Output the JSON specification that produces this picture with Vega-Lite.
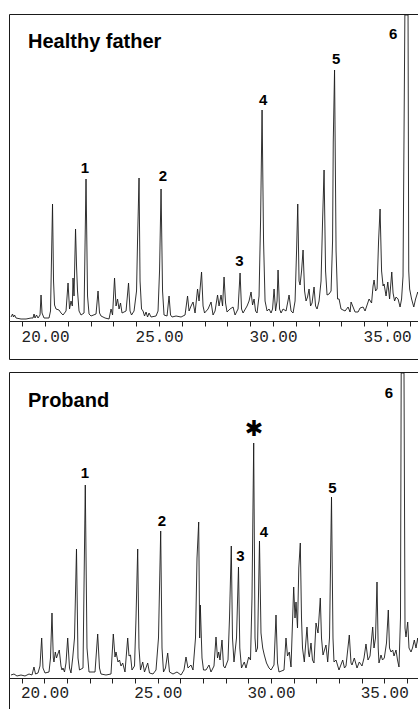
{
  "$schema": "https://vega.github.io/schema/vega-lite/v6.json",
  "padding": {"left": 8, "top": 12, "right": 0, "bottom": 0},
  "spacing": 10,
  "background": "white",
  "config": {"view": {"stroke": "#1a1a1a", "strokeWidth": 1}},
  "resolve": {"scale": {"x": "independent", "y": "independent"}},
  "datasets": {
    "trace": [
      {"panel":"father","t":18.509,"I":4},{"panel":"father","t":18.575,"I":7},{"panel":"father","t":18.618,"I":4},{"panel":"father","t":18.662,"I":6},{"panel":"father","t":18.728,"I":3},{"panel":"father","t":18.947,"I":2},{"panel":"father","t":19.167,"I":2},{"panel":"father","t":19.386,"I":3},{"panel":"father","t":19.474,"I":3},{"panel":"father","t":19.518,"I":7},{"panel":"father","t":19.561,"I":3},{"panel":"father","t":19.627,"I":6},{"panel":"father","t":19.693,"I":3},{"panel":"father","t":19.781,"I":6},{"panel":"father","t":19.825,"I":26},{"panel":"father","t":19.868,"I":8},{"panel":"father","t":19.956,"I":3},{"panel":"father","t":20.175,"I":3},{"panel":"father","t":20.241,"I":10},{"panel":"father","t":20.329,"I":117},{"panel":"father","t":20.373,"I":40},{"panel":"father","t":20.417,"I":16},{"panel":"father","t":20.482,"I":12},{"panel":"father","t":20.614,"I":11},{"panel":"father","t":20.702,"I":8},{"panel":"father","t":20.789,"I":6},{"panel":"father","t":20.855,"I":8},{"panel":"father","t":20.921,"I":10},{"panel":"father","t":21.009,"I":38},{"panel":"father","t":21.075,"I":12},{"panel":"father","t":21.14,"I":20},{"panel":"father","t":21.197,"I":15},{"panel":"father","t":21.228,"I":43},{"panel":"father","t":21.272,"I":25},{"panel":"father","t":21.338,"I":92},{"panel":"father","t":21.382,"I":55},{"panel":"father","t":21.425,"I":30},{"panel":"father","t":21.491,"I":10},{"panel":"father","t":21.579,"I":6},{"panel":"father","t":21.711,"I":8},{"panel":"father","t":21.798,"I":142},{"panel":"father","t":21.864,"I":25},{"panel":"father","t":21.93,"I":7},{"panel":"father","t":22.018,"I":5},{"panel":"father","t":22.237,"I":7},{"panel":"father","t":22.325,"I":30},{"panel":"father","t":22.39,"I":8},{"panel":"father","t":22.456,"I":5},{"panel":"father","t":22.632,"I":3},{"panel":"father","t":22.807,"I":2},{"panel":"father","t":22.895,"I":12},{"panel":"father","t":22.961,"I":6},{"panel":"father","t":23.048,"I":43},{"panel":"father","t":23.114,"I":15},{"panel":"father","t":23.18,"I":22},{"panel":"father","t":23.246,"I":12},{"panel":"father","t":23.311,"I":18},{"panel":"father","t":23.377,"I":8},{"panel":"father","t":23.553,"I":10},{"panel":"father","t":23.662,"I":38},{"panel":"father","t":23.728,"I":10},{"panel":"father","t":23.794,"I":6},{"panel":"father","t":23.904,"I":10},{"panel":"father","t":24.013,"I":30},{"panel":"father","t":24.057,"I":80},{"panel":"father","t":24.123,"I":143},{"panel":"father","t":24.167,"I":40},{"panel":"father","t":24.232,"I":12},{"panel":"father","t":24.298,"I":10},{"panel":"father","t":24.364,"I":5},{"panel":"father","t":24.43,"I":9},{"panel":"father","t":24.496,"I":4},{"panel":"father","t":24.561,"I":8},{"panel":"father","t":24.649,"I":4},{"panel":"father","t":24.868,"I":5},{"panel":"father","t":24.956,"I":10},{"panel":"father","t":25.022,"I":50},{"panel":"father","t":25.088,"I":132},{"panel":"father","t":25.154,"I":30},{"panel":"father","t":25.219,"I":6},{"panel":"father","t":25.351,"I":5},{"panel":"father","t":25.439,"I":25},{"panel":"father","t":25.504,"I":6},{"panel":"father","t":25.57,"I":4},{"panel":"father","t":25.746,"I":5},{"panel":"father","t":25.965,"I":4},{"panel":"father","t":26.14,"I":6},{"panel":"father","t":26.25,"I":25},{"panel":"father","t":26.316,"I":10},{"panel":"father","t":26.404,"I":15},{"panel":"father","t":26.491,"I":19},{"panel":"father","t":26.579,"I":8},{"panel":"father","t":26.689,"I":32},{"panel":"father","t":26.754,"I":20},{"panel":"father","t":26.864,"I":49},{"panel":"father","t":26.93,"I":15},{"panel":"father","t":26.996,"I":8},{"panel":"father","t":27.149,"I":12},{"panel":"father","t":27.281,"I":19},{"panel":"father","t":27.368,"I":6},{"panel":"father","t":27.456,"I":10},{"panel":"father","t":27.566,"I":26},{"panel":"father","t":27.632,"I":15},{"panel":"father","t":27.719,"I":26},{"panel":"father","t":27.785,"I":15},{"panel":"father","t":27.851,"I":44},{"panel":"father","t":27.917,"I":18},{"panel":"father","t":27.982,"I":9},{"panel":"father","t":28.114,"I":12},{"panel":"father","t":28.246,"I":14},{"panel":"father","t":28.333,"I":6},{"panel":"father","t":28.465,"I":12},{"panel":"father","t":28.553,"I":48},{"panel":"father","t":28.618,"I":12},{"panel":"father","t":28.684,"I":8},{"panel":"father","t":28.86,"I":15},{"panel":"father","t":28.947,"I":20},{"panel":"father","t":29.035,"I":29},{"panel":"father","t":29.101,"I":16},{"panel":"father","t":29.167,"I":22},{"panel":"father","t":29.232,"I":10},{"panel":"father","t":29.298,"I":8},{"panel":"father","t":29.386,"I":25},{"panel":"father","t":29.452,"I":100},{"panel":"father","t":29.518,"I":211},{"panel":"father","t":29.583,"I":80},{"panel":"father","t":29.649,"I":20},{"panel":"father","t":29.737,"I":10},{"panel":"father","t":29.825,"I":12},{"panel":"father","t":29.912,"I":8},{"panel":"father","t":29.978,"I":12},{"panel":"father","t":30.044,"I":32},{"panel":"father","t":30.11,"I":10},{"panel":"father","t":30.175,"I":20},{"panel":"father","t":30.219,"I":51},{"panel":"father","t":30.285,"I":12},{"panel":"father","t":30.351,"I":8},{"panel":"father","t":30.439,"I":12},{"panel":"father","t":30.57,"I":10},{"panel":"father","t":30.702,"I":26},{"panel":"father","t":30.789,"I":10},{"panel":"father","t":30.877,"I":8},{"panel":"father","t":30.965,"I":20},{"panel":"father","t":31.031,"I":70},{"panel":"father","t":31.083,"I":117},{"panel":"father","t":31.14,"I":40},{"panel":"father","t":31.184,"I":36},{"panel":"father","t":31.25,"I":50},{"panel":"father","t":31.316,"I":71},{"panel":"father","t":31.382,"I":30},{"panel":"father","t":31.447,"I":20},{"panel":"father","t":31.513,"I":24},{"panel":"father","t":31.579,"I":32},{"panel":"father","t":31.645,"I":15},{"panel":"father","t":31.711,"I":18},{"panel":"father","t":31.798,"I":34},{"panel":"father","t":31.864,"I":15},{"panel":"father","t":31.93,"I":12},{"panel":"father","t":32.018,"I":20},{"panel":"father","t":32.105,"I":40},{"panel":"father","t":32.171,"I":100},{"panel":"father","t":32.237,"I":151},{"panel":"father","t":32.303,"I":50},{"panel":"father","t":32.368,"I":26},{"panel":"father","t":32.456,"I":27},{"panel":"father","t":32.544,"I":30},{"panel":"father","t":32.61,"I":80},{"panel":"father","t":32.64,"I":179},{"panel":"father","t":32.697,"I":251},{"panel":"father","t":32.763,"I":70},{"panel":"father","t":32.829,"I":22},{"panel":"father","t":32.895,"I":22},{"panel":"father","t":32.982,"I":12},{"panel":"father","t":33.158,"I":10},{"panel":"father","t":33.29,"I":14},{"panel":"father","t":33.377,"I":9},{"panel":"father","t":33.421,"I":19},{"panel":"father","t":33.509,"I":14},{"panel":"father","t":33.596,"I":9},{"panel":"father","t":33.728,"I":9},{"panel":"father","t":33.816,"I":13},{"panel":"father","t":33.947,"I":14},{"panel":"father","t":34.035,"I":10},{"panel":"father","t":34.123,"I":16},{"panel":"father","t":34.211,"I":22},{"panel":"father","t":34.32,"I":18},{"panel":"father","t":34.386,"I":35},{"panel":"father","t":34.43,"I":41},{"panel":"father","t":34.496,"I":30},{"panel":"father","t":34.561,"I":32},{"panel":"father","t":34.627,"I":80},{"panel":"father","t":34.693,"I":112},{"panel":"father","t":34.759,"I":50},{"panel":"father","t":34.825,"I":35},{"panel":"father","t":34.868,"I":37},{"panel":"father","t":34.956,"I":25},{"panel":"father","t":35.031,"I":39},{"panel":"father","t":35.11,"I":22},{"panel":"father","t":35.206,"I":49},{"panel":"father","t":35.263,"I":28},{"panel":"father","t":35.329,"I":20},{"panel":"father","t":35.395,"I":24},{"panel":"father","t":35.482,"I":22},{"panel":"father","t":35.57,"I":14},{"panel":"father","t":35.636,"I":22},{"panel":"father","t":35.7,"I":45},{"panel":"father","t":35.78,"I":306},{"panel":"father","t":35.92,"I":306},{"panel":"father","t":35.95,"I":50},{"panel":"father","t":35.99,"I":32},{"panel":"father","t":36.075,"I":22},{"panel":"father","t":36.171,"I":14},{"panel":"father","t":36.25,"I":22},{"panel":"father","t":36.346,"I":29},{"panel":"father","t":36.404,"I":25},
      {"panel":"proband","t":18.521,"I":3},{"panel":"proband","t":18.653,"I":4},{"panel":"proband","t":18.786,"I":2},{"panel":"proband","t":18.962,"I":3},{"panel":"proband","t":19.139,"I":2},{"panel":"proband","t":19.316,"I":4},{"panel":"proband","t":19.448,"I":3},{"panel":"proband","t":19.536,"I":11},{"panel":"proband","t":19.603,"I":4},{"panel":"proband","t":19.713,"I":5},{"panel":"proband","t":19.801,"I":12},{"panel":"proband","t":19.876,"I":40},{"panel":"proband","t":19.934,"I":10},{"panel":"proband","t":20.022,"I":5},{"panel":"proband","t":20.199,"I":6},{"panel":"proband","t":20.265,"I":20},{"panel":"proband","t":20.331,"I":65},{"panel":"proband","t":20.389,"I":20},{"panel":"proband","t":20.419,"I":16},{"panel":"proband","t":20.477,"I":26},{"panel":"proband","t":20.53,"I":20},{"panel":"proband","t":20.574,"I":23},{"panel":"proband","t":20.653,"I":28},{"panel":"proband","t":20.728,"I":12},{"panel":"proband","t":20.773,"I":8},{"panel":"proband","t":20.817,"I":10},{"panel":"proband","t":20.883,"I":6},{"panel":"proband","t":20.949,"I":15},{"panel":"proband","t":21.024,"I":40},{"panel":"proband","t":21.104,"I":10},{"panel":"proband","t":21.17,"I":5},{"panel":"proband","t":21.245,"I":20},{"panel":"proband","t":21.325,"I":40},{"panel":"proband","t":21.413,"I":129},{"panel":"proband","t":21.479,"I":20},{"panel":"proband","t":21.545,"I":8},{"panel":"proband","t":21.7,"I":10},{"panel":"proband","t":21.801,"I":193},{"panel":"proband","t":21.876,"I":30},{"panel":"proband","t":21.965,"I":6},{"panel":"proband","t":22.23,"I":6},{"panel":"proband","t":22.349,"I":44},{"panel":"proband","t":22.428,"I":10},{"panel":"proband","t":22.494,"I":4},{"panel":"proband","t":22.715,"I":3},{"panel":"proband","t":22.936,"I":4},{"panel":"proband","t":23.038,"I":44},{"panel":"proband","t":23.113,"I":21},{"panel":"proband","t":23.157,"I":26},{"panel":"proband","t":23.245,"I":16},{"panel":"proband","t":23.311,"I":18},{"panel":"proband","t":23.378,"I":12},{"panel":"proband","t":23.453,"I":15},{"panel":"proband","t":23.554,"I":6},{"panel":"proband","t":23.673,"I":40},{"panel":"proband","t":23.731,"I":22},{"panel":"proband","t":23.797,"I":23},{"panel":"proband","t":23.863,"I":8},{"panel":"proband","t":23.974,"I":12},{"panel":"proband","t":24.04,"I":60},{"panel":"proband","t":24.115,"I":129},{"panel":"proband","t":24.172,"I":30},{"panel":"proband","t":24.238,"I":8},{"panel":"proband","t":24.336,"I":16},{"panel":"proband","t":24.415,"I":6},{"panel":"proband","t":24.556,"I":15},{"panel":"proband","t":24.636,"I":5},{"panel":"proband","t":24.79,"I":4},{"panel":"proband","t":24.923,"I":8},{"panel":"proband","t":25.033,"I":40},{"panel":"proband","t":25.13,"I":147},{"panel":"proband","t":25.188,"I":30},{"panel":"proband","t":25.254,"I":6},{"panel":"proband","t":25.342,"I":10},{"panel":"proband","t":25.439,"I":25},{"panel":"proband","t":25.519,"I":6},{"panel":"proband","t":25.673,"I":4},{"panel":"proband","t":25.85,"I":6},{"panel":"proband","t":26.026,"I":3},{"panel":"proband","t":26.159,"I":8},{"panel":"proband","t":26.247,"I":21},{"panel":"proband","t":26.336,"I":10},{"panel":"proband","t":26.468,"I":13},{"panel":"proband","t":26.556,"I":8},{"panel":"proband","t":26.667,"I":40},{"panel":"proband","t":26.733,"I":120},{"panel":"proband","t":26.808,"I":156},{"panel":"proband","t":26.852,"I":40},{"panel":"proband","t":26.879,"I":73},{"panel":"proband","t":26.954,"I":20},{"panel":"proband","t":27.02,"I":8},{"panel":"proband","t":27.13,"I":8},{"panel":"proband","t":27.263,"I":13},{"panel":"proband","t":27.351,"I":6},{"panel":"proband","t":27.483,"I":12},{"panel":"proband","t":27.572,"I":41},{"panel":"proband","t":27.638,"I":20},{"panel":"proband","t":27.691,"I":26},{"panel":"proband","t":27.748,"I":18},{"panel":"proband","t":27.837,"I":38},{"panel":"proband","t":27.903,"I":12},{"panel":"proband","t":27.969,"I":10},{"panel":"proband","t":28.102,"I":18},{"panel":"proband","t":28.168,"I":60},{"panel":"proband","t":28.247,"I":132},{"panel":"proband","t":28.3,"I":40},{"panel":"proband","t":28.366,"I":16},{"panel":"proband","t":28.477,"I":40},{"panel":"proband","t":28.565,"I":111},{"panel":"proband","t":28.623,"I":30},{"panel":"proband","t":28.698,"I":10},{"panel":"proband","t":28.821,"I":16},{"panel":"proband","t":28.896,"I":10},{"panel":"proband","t":29.015,"I":21},{"panel":"proband","t":29.095,"I":18},{"panel":"proband","t":29.161,"I":80},{"panel":"proband","t":29.236,"I":235},{"panel":"proband","t":29.294,"I":40},{"panel":"proband","t":29.338,"I":26},{"panel":"proband","t":29.404,"I":30},{"panel":"proband","t":29.492,"I":137},{"panel":"proband","t":29.558,"I":45},{"panel":"proband","t":29.634,"I":30},{"panel":"proband","t":29.704,"I":23},{"panel":"proband","t":29.801,"I":15},{"panel":"proband","t":29.912,"I":10},{"panel":"proband","t":30.0,"I":8},{"panel":"proband","t":30.132,"I":13},{"panel":"proband","t":30.221,"I":63},{"panel":"proband","t":30.287,"I":15},{"panel":"proband","t":30.353,"I":6},{"panel":"proband","t":30.574,"I":8},{"panel":"proband","t":30.662,"I":40},{"panel":"proband","t":30.728,"I":22},{"panel":"proband","t":30.808,"I":26},{"panel":"proband","t":30.883,"I":11},{"panel":"proband","t":31.002,"I":91},{"panel":"proband","t":31.06,"I":60},{"panel":"proband","t":31.104,"I":76},{"panel":"proband","t":31.17,"I":50},{"panel":"proband","t":31.227,"I":110},{"panel":"proband","t":31.294,"I":135},{"panel":"proband","t":31.347,"I":60},{"panel":"proband","t":31.391,"I":30},{"panel":"proband","t":31.47,"I":16},{"panel":"proband","t":31.589,"I":51},{"panel":"proband","t":31.656,"I":25},{"panel":"proband","t":31.691,"I":21},{"panel":"proband","t":31.766,"I":35},{"panel":"proband","t":31.832,"I":18},{"panel":"proband","t":31.898,"I":15},{"panel":"proband","t":31.987,"I":55},{"panel":"proband","t":32.075,"I":45},{"panel":"proband","t":32.177,"I":80},{"panel":"proband","t":32.23,"I":40},{"panel":"proband","t":32.296,"I":23},{"panel":"proband","t":32.428,"I":33},{"panel":"proband","t":32.503,"I":16},{"panel":"proband","t":32.583,"I":40},{"panel":"proband","t":32.671,"I":181},{"panel":"proband","t":32.737,"I":40},{"panel":"proband","t":32.781,"I":16},{"panel":"proband","t":32.87,"I":18},{"panel":"proband","t":33.002,"I":8},{"panel":"proband","t":33.166,"I":18},{"panel":"proband","t":33.245,"I":10},{"panel":"proband","t":33.311,"I":12},{"panel":"proband","t":33.457,"I":43},{"panel":"proband","t":33.532,"I":15},{"panel":"proband","t":33.576,"I":13},{"panel":"proband","t":33.678,"I":20},{"panel":"proband","t":33.797,"I":10},{"panel":"proband","t":33.898,"I":16},{"panel":"proband","t":34.018,"I":12},{"panel":"proband","t":34.106,"I":20},{"panel":"proband","t":34.194,"I":34},{"panel":"proband","t":34.283,"I":18},{"panel":"proband","t":34.371,"I":22},{"panel":"proband","t":34.49,"I":51},{"panel":"proband","t":34.547,"I":30},{"panel":"proband","t":34.614,"I":40},{"panel":"proband","t":34.68,"I":96},{"panel":"proband","t":34.733,"I":30},{"panel":"proband","t":34.768,"I":15},{"panel":"proband","t":34.857,"I":23},{"panel":"proband","t":34.923,"I":18},{"panel":"proband","t":35.002,"I":20},{"panel":"proband","t":35.099,"I":35},{"panel":"proband","t":35.179,"I":68},{"panel":"proband","t":35.232,"I":30},{"panel":"proband","t":35.298,"I":26},{"panel":"proband","t":35.373,"I":28},{"panel":"proband","t":35.431,"I":22},{"panel":"proband","t":35.519,"I":28},{"panel":"proband","t":35.585,"I":18},{"panel":"proband","t":35.651,"I":11},{"panel":"proband","t":35.717,"I":60},{"panel":"proband","t":35.748,"I":305},{"panel":"proband","t":35.872,"I":305},{"panel":"proband","t":35.916,"I":50},{"panel":"proband","t":35.96,"I":41},{"panel":"proband","t":36.035,"I":56},{"panel":"proband","t":36.093,"I":30},{"panel":"proband","t":36.181,"I":26},{"panel":"proband","t":36.247,"I":30},{"panel":"proband","t":36.327,"I":38},{"panel":"proband","t":36.402,"I":30},{"panel":"proband","t":36.477,"I":40},{"panel":"proband","t":36.534,"I":30}
    ],
    "labels": [
      {"panel":"father","kind":"title","text":"Healthy father","t":19.254,"I":273},
      {"panel":"father","kind":"peak","text":"1","t":21.754,"I":153.5},
      {"panel":"father","kind":"peak","text":"2","t":25.175,"I":145},
      {"panel":"father","kind":"peak","text":"3","t":28.522,"I":60},
      {"panel":"father","kind":"peak","text":"4","t":29.561,"I":221},
      {"panel":"father","kind":"peak","text":"5","t":32.763,"I":262},
      {"panel":"father","kind":"peak","text":"6","t":35.263,"I":287},
      {"panel":"proband","kind":"title","text":"Proband","t":19.272,"I":271.5},
      {"panel":"proband","kind":"peak","text":"1","t":21.788,"I":205},
      {"panel":"proband","kind":"peak","text":"2","t":25.188,"I":157.5},
      {"panel":"proband","kind":"peak","text":"3","t":28.653,"I":122},
      {"panel":"proband","kind":"peak","text":"4","t":29.691,"I":146.5},
      {"panel":"proband","kind":"peak","text":"5","t":32.715,"I":190.5},
      {"panel":"proband","kind":"peak","text":"6","t":35.21,"I":285.5},
      {"panel":"proband","kind":"star","text":"✱","t":29.249,"I":249.5}
    ]
  },
  "vconcat": [
    {
      "width": 410,
      "height": 345,
      "encoding": {
        "x": {"field": "t", "type": "quantitative", "scale": {"domain": [18.42, 36.4], "nice": false, "zero": false},
          "axis": {"orient": "bottom", "offset": -38, "values": [19,20,21,22,23,24,25,26,27,28,29,30,31,32,33,34,35,36],
            "labelExpr": "datum.value % 5 === 0 ? format(datum.value, '.2f') : ''",
            "grid": false, "title": null, "domain": true, "ticks": true, "labels": true, "domainColor": "#222", "domainWidth": 1, "tickColor": "#222", "tickWidth": 1, "tickSize": 5,
            "labelFont": "Liberation Mono", "labelFontSize": 16, "labelColor": "#222", "labelPadding": 2, "labelOverlap": false, "labelFlush": false}},
        "y": {"field": "I", "type": "quantitative", "scale": {"domain": [-38, 307], "nice": false, "zero": false}, "axis": null}
      },
      "layer": [
        {
          "data": {"name": "trace"},
          "transform": [{"filter": "datum.panel === 'father'"}],
          "mark": {"type": "line", "color": "#1a1a1a", "strokeWidth": 0.9}
        },
        {
          "data": {"values": [{}]},
          "mark": {"type": "rule", "color": "#444", "strokeWidth": 1},
          "encoding": {"x": {"datum": 18.42, "type": "quantitative"}, "x2": {"datum": 36.4}, "y": {"datum": -25, "type": "quantitative"}}
        },
        {
          "data": {"name": "labels"},
          "transform": [{"filter": "datum.panel === 'father' && datum.kind === 'title'"}],
          "mark": {"type": "text", "align": "left", "baseline": "alphabetic", "font": "Liberation Sans", "fontSize": 20, "fontWeight": "bold", "color": "#000"},
          "encoding": {"text": {"field": "text"}}
        },
        {
          "data": {"name": "labels"},
          "transform": [{"filter": "datum.panel === 'father' && datum.kind === 'peak'"}],
          "mark": {"type": "text", "align": "center", "baseline": "middle", "font": "Liberation Sans", "fontSize": 15, "fontWeight": "bold", "color": "#000"},
          "encoding": {"text": {"field": "text"}}
        }
      ]
    },
    {
      "width": 410,
      "height": 342,
      "encoding": {
        "x": {"field": "t", "type": "quantitative", "scale": {"domain": [18.433, 36.534], "nice": false, "zero": false},
          "axis": {"orient": "bottom", "offset": -36, "values": [19,20,21,22,23,24,25,26,27,28,29,30,31,32,33,34,35,36],
            "labelExpr": "datum.value % 5 === 0 ? format(datum.value, '.2f') : ''",
            "grid": false, "title": null, "domain": true, "ticks": true, "labels": true, "domainColor": "#222", "domainWidth": 1, "tickColor": "#222", "tickWidth": 1, "tickSize": 5,
            "labelFont": "Liberation Mono", "labelFontSize": 16, "labelColor": "#222", "labelPadding": 1, "labelOverlap": false, "labelFlush": false}},
        "y": {"field": "I", "type": "quantitative", "scale": {"domain": [-36, 306], "nice": false, "zero": false}, "axis": null}
      },
      "layer": [
        {
          "data": {"name": "trace"},
          "transform": [{"filter": "datum.panel === 'proband'"}],
          "mark": {"type": "line", "color": "#1a1a1a", "strokeWidth": 0.9}
        },
        {
          "data": {"values": [{}]},
          "mark": {"type": "rule", "color": "#444", "strokeWidth": 1},
          "encoding": {"x": {"datum": 18.433, "type": "quantitative"}, "x2": {"datum": 36.534}, "y": {"datum": -26, "type": "quantitative"}}
        },
        {
          "data": {"name": "labels"},
          "transform": [{"filter": "datum.panel === 'proband' && datum.kind === 'title'"}],
          "mark": {"type": "text", "align": "left", "baseline": "alphabetic", "font": "Liberation Sans", "fontSize": 20, "fontWeight": "bold", "color": "#000"},
          "encoding": {"text": {"field": "text"}}
        },
        {
          "data": {"name": "labels"},
          "transform": [{"filter": "datum.panel === 'proband' && datum.kind === 'peak'"}],
          "mark": {"type": "text", "align": "center", "baseline": "middle", "font": "Liberation Sans", "fontSize": 15, "fontWeight": "bold", "color": "#000"},
          "encoding": {"text": {"field": "text"}}
        },
        {
          "data": {"name": "labels"},
          "transform": [{"filter": "datum.panel === 'proband' && datum.kind === 'star'"}],
          "mark": {"type": "text", "align": "center", "baseline": "middle", "font": "DejaVu Sans", "fontSize": 22, "color": "#000"},
          "encoding": {"text": {"field": "text"}}
        }
      ]
    }
  ]
}
